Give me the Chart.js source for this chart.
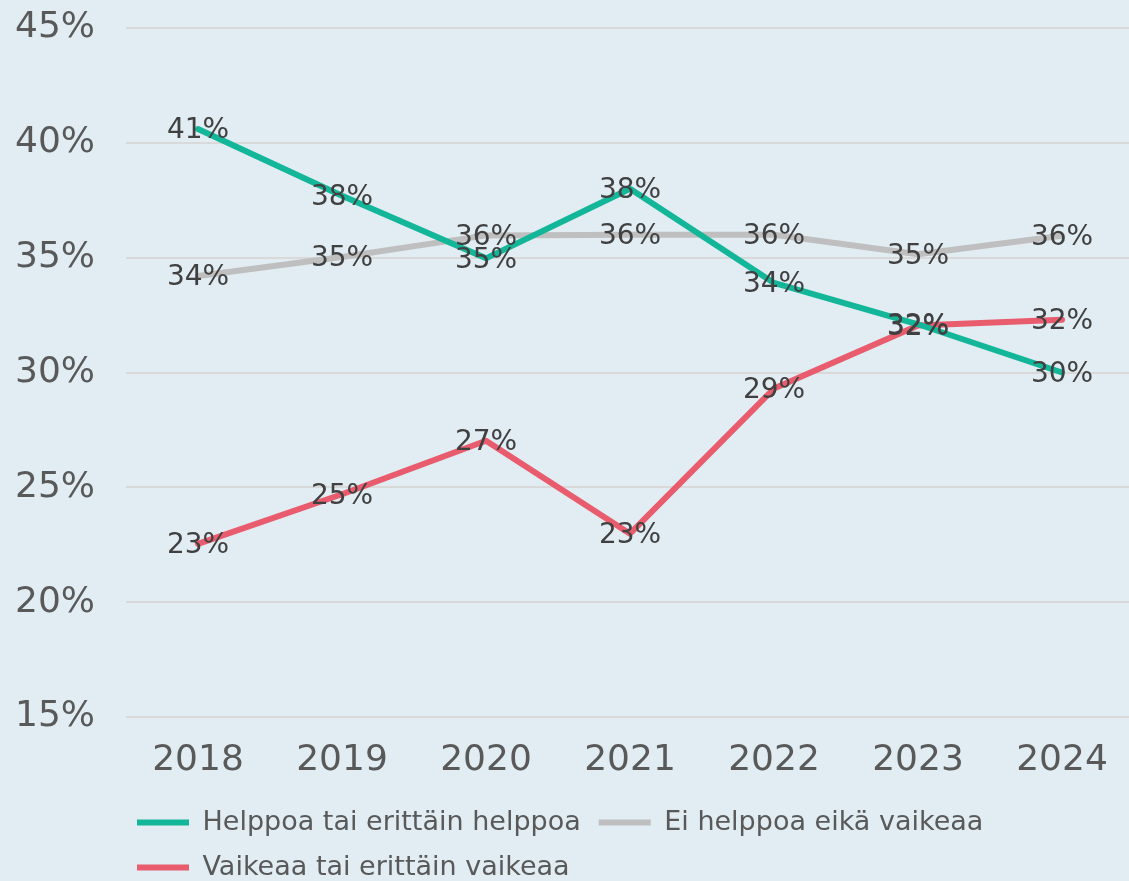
<!DOCTYPE html>
<html lang="fi">
<head>
<meta charset="utf-8">
<script src="https://cdn.jsdelivr.net/npm/chart.js@4"></script>
<style>
    html, body { margin: 0; padding: 0; background: #e1edf3; overflow: hidden; }
    #wrap { position: absolute; left: 0; top: 0; width: 1134px; height: 891px; }
</style>
</head>
<body>
<div id="wrap"><canvas id="chart"></canvas></div>
<script>
const years = ['2018', '2019', '2020', '2021', '2022', '2023', '2024'];
const easy = [40.6, 37.7, 34.97, 38.0, 33.9, 32.1, 30.0];
const neutral = [34.2, 35.03, 35.97, 36.0, 36.0, 35.15, 35.95];
const hard = [22.54, 24.7, 27.03, 22.98, 29.3, 32.05, 32.3];
const seriesNames = ['Helppoa tai erittäin helppoa', 'Ei helppoa eikä vaikeaa', 'Vaikeaa tai erittäin vaikeaa'];
const seriesColors = ['#14b699', '#bfbfbf', '#e85c6e'];

const FONT = "'DejaVu Sans', sans-serif";

// Labels drawn centered on each point
const pointLabels = {
    id: 'pointLabels',
    afterDatasetsDraw(chart) {
        const ctx = chart.ctx;
        ctx.save();
        ctx.font = '28px ' + FONT;
        ctx.fillStyle = '#404040';
        ctx.textAlign = 'center';
        ctx.textBaseline = 'middle';
        chart.data.datasets.forEach((ds, i) => {
            chart.getDatasetMeta(i).data.forEach((pt, j) => {
                ctx.fillText(Math.round(ds.data[j]) + '%', pt.x, pt.y + 2);
            });
        });
        ctx.restore();
    }
};

// Shift legend to start under the plot
const legendShift = {
    id: 'legendShift',
    afterLayout(chart) {
        chart.legend.left = 119;
    }
};

const datasets = seriesNames.map((name, i) => ({
    label: name,
    data: [easy, neutral, hard][i],
    borderColor: seriesColors[i],
    backgroundColor: seriesColors[i],
    borderWidth: 6,
    borderCapStyle: 'round',
    borderJoinStyle: 'round',
    pointRadius: 0,
    tension: 0
}));

new Chart(document.getElementById('chart').getContext('2d'), {
    type: 'line',
    data: { labels: years, datasets: datasets },
    plugins: [pointLabels, legendShift],
    options: {
        responsive: true,
        maintainAspectRatio: false,
        animation: false,
        layout: { padding: 0 },
        scales: {
            x: {
                offset: true,
                grid: { display: false, drawTicks: false },
                border: { display: false },
                ticks: { color: '#595959', font: { family: FONT, size: 36 }, padding: 22, maxRotation: 0 },
                afterFit: (scale) => { scale.height = 74; }
            },
            y: {
                min: 15,
                max: 45,
                grid: { color: '#d9d9d9', lineWidth: 2, drawTicks: false },
                border: { display: false },
                ticks: {
                    stepSize: 5,
                    color: '#595959',
                    font: { family: FONT, size: 36 },
                    padding: 31,
                    callback: (v) => v + '%'
                },
                afterFit: (scale) => {
                    scale.width = 126;
                    scale.paddingTop = 28;
                }
            }
        },
        plugins: {
            legend: {
                position: 'bottom',
                align: 'start',
                labels: {
                    usePointStyle: true,
                    pointStyle: 'line',
                    pointStyleWidth: 52,
                    color: '#595959',
                    font: { family: FONT, size: 27 },
                    padding: 18
                }
            },
            tooltip: { enabled: false }
        }
    }
});
</script>
</body>
</html>
